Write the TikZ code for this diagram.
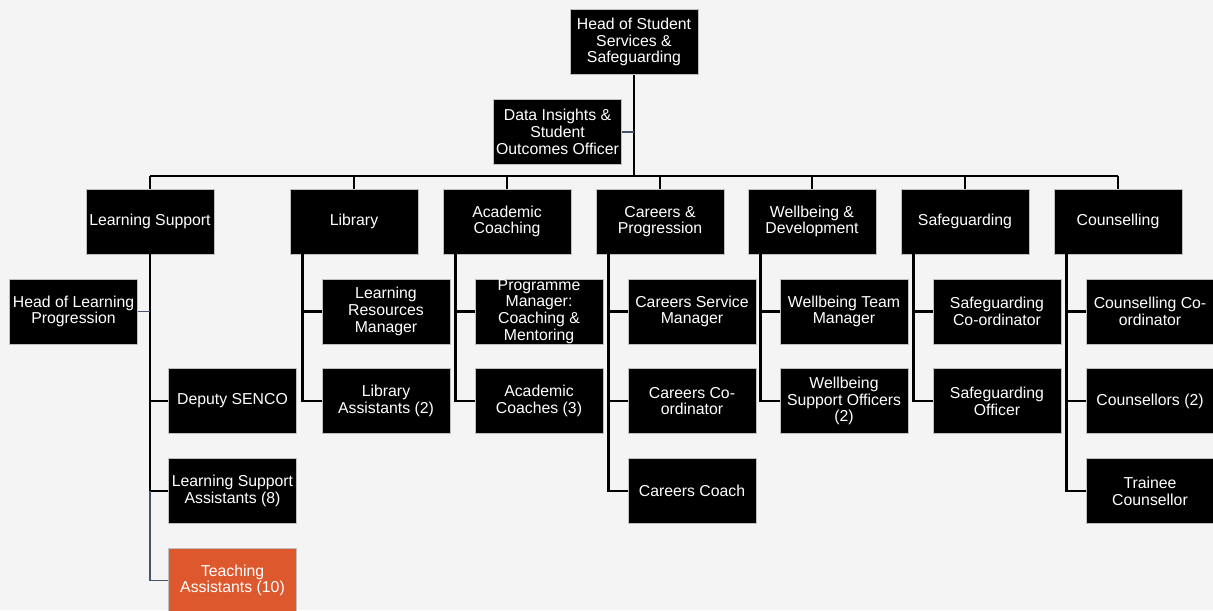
\documentclass[tikz,border=0pt]{standalone}
\usepackage{fontspec}
\setmainfont{Liberation Sans}
\usetikzlibrary{calc}

\definecolor{slate}{HTML}{44546A}
\definecolor{tabox}{HTML}{DD582D}
\definecolor{paper}{HTML}{F4F4F4}

\begin{document}
\begin{tikzpicture}[x=0.02cm,y=-0.02cm,
  role/.style={fill=black,draw=black!25,line width=0.5pt,text=white,
    minimum width=2.56cm,minimum height=1.3cm,inner sep=0pt,align=center,
    font=\fontsize{9}{9.5}\selectfont},
  conn/.style={black,line width=1.6pt},
  aux/.style={slate,line width=1.1pt}]
\useasboundingbox (0,0) rectangle (1213,610);
\fill[paper] (0,0) rectangle (1213,610);
\coordinate (bus) at (0,176);

% top
\node[role] (head) at (634,42) {Head of Student\\Services \&\\Safeguarding};
\node[role] (data) at (557.5,132) {Data Insights \&\\Student\\Outcomes Officer};

% teams
\foreach \n/\x/\t in {ls/150/{Learning Support}, lib/354/{Library},
  ac/507/{Academic\\Coaching}, cp/660/{Careers \&\\Progression},
  wd/812/{Wellbeing \&\\Development}, sg/965/{Safeguarding},
  co/1118/{Counselling}}
  \node[role] (\n) at (\x,221.5) {\t};

% learning support
\node[role] (hlp) at (73.5,311.5) {Head of Learning\\Progression};
\node[role] (dep) at (232.5,401) {Deputy SENCO};
\node[role] (lsa) at (232.5,491) {Learning Support\\Assistants (8)};
\node[role,fill=tabox] (ta) at (232.5,580.5) {Teaching\\Assistants (10)};

% library
\node[role] (lrm) at (386,311.5) {Learning\\Resources\\Manager};
\node[role] (la) at (386,401) {Library\\Assistants (2)};
% academic coaching
\node[role] (pm) at (539,311.5) {Programme\\Manager:\\Coaching \&\\Mentoring};
\node[role] (acs) at (539,401) {Academic\\Coaches (3)};
% careers
\node[role] (csm) at (692,311.5) {Careers Service\\Manager};
\node[role] (cc) at (692,401) {Careers Co-\\ordinator};
\node[role] (coach) at (692,491) {Careers Coach};
% wellbeing
\node[role] (wtm) at (844,311.5) {Wellbeing Team\\Manager};
\node[role] (wso) at (844,401) {Wellbeing\\Support Officers\\(2)};
% safeguarding
\node[role] (sgc) at (997,311.5) {Safeguarding\\Co-ordinator};
\node[role] (sgo) at (997,401) {Safeguarding\\Officer};
% counselling
\node[role] (ccd) at (1150,311.5) {Counselling Co-\\ordinator};
\node[role] (cns) at (1150,401) {Counsellors (2)};
\node[role] (tc) at (1150,491) {Trainee\\Counsellor};

% lines
\draw[conn] (head.south) -- (head.south |- bus);
\draw[aux] (data.east) -- (data.east -| head.south);
\draw[conn] (ls.north |- bus) -- (co.north |- bus);
\foreach \n in {ls,lib,ac,cp,wd,sg,co}
  \draw[conn] (\n.north) -- (\n.north |- bus);

\draw[conn] (ls.south) |- (dep.west);
\draw[conn] (ls.south) |- (lsa.west);
\draw[aux] (hlp.east) -- (hlp.east -| ls.south);
\draw[aux] (lsa.west -| ls.south) |- (ta.west);

\foreach \p/\c in {lib/lrm,lib/la,ac/pm,ac/acs,cp/csm,cp/cc,cp/coach,
  wd/wtm,wd/wso,sg/sgc,sg/sgo,co/ccd,co/cns,co/tc}
  \draw[conn] ($(\p.south west)+(13,0)$) |- (\c.west);
\end{tikzpicture}
\end{document}
